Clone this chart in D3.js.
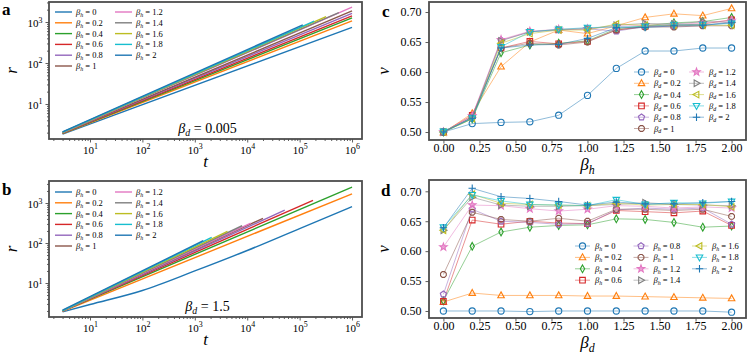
<!DOCTYPE html>
<html>
<head>
<meta charset="utf-8">
<style>
  body { margin: 0; background: #fff; }
  svg text { font-family: "Liberation Serif", "DejaVu Serif", serif; fill: #000; }
</style>
</head>
<body>
<svg id="fig" width="748" height="355"></svg>
<script src="https://d3js.org/d3.v7.min.js"></script>
<script>
  var colors = ["#1f77b4", "#ff7f0e", "#2ca02c", "#d62728", "#9467bd", "#8c564b",
    "#e377c2", "#7f7f7f", "#bcbd22", "#17becf", "#1f77b4"];
  var betaLabels = ["0", "0.2", "0.4", "0.6", "0.8", "1", "1.2", "1.4", "1.6", "1.8", "2"];
  var betaX = [0, 0.2, 0.4, 0.6, 0.8, 1.0, 1.2, 1.4, 1.6, 1.8, 2.0];
  var markers = ["o", "^", "d", "s", "p", "8", "*", ">", "<", "v", "+"];

  // panel a : r(t) for beta_d = 0.005, one list of [t, r] per beta_h
  var curvesA = [
    [[3, 1.85], [1e6, 740]],
    [[3, 1.9], [1e6, 1070]],
    [[3, 1.92], [1e6, 1260]],
    [[3, 1.95], [1e6, 1410]],
    [[3, 1.97], [1e6, 1630]],
    [[3, 1.98], [1e6, 1860]],
    [[3, 2.0], [1e6, 2300]],
    [[3, 2.02], [5.6e5, 1700]],
    [[3, 2.04], [3.2e5, 1350]],
    [[3, 2.06], [1.9e5, 1050]],
    [[3, 2.1], [1.15e5, 850]]
  ];

  // panel b : r(t) for beta_d = 1.5
  var curvesB = [
    [[3, 1.9], [10, 2.9], [100, 6.5], [1e3, 20], [1e4, 65], [1e5, 230], [1e6, 810]],
    [[3, 1.95], [1e6, 1700]],
    [[3, 2.0], [1e6, 2500]],
    [[3, 2.0], [1.8e5, 1170]],
    [[3, 2.0], [5.2e4, 660]],
    [[3, 2.0], [2.0e4, 415]],
    [[3, 2.0], [1.17e4, 316]],
    [[3, 2.0], [8e3, 270]],
    [[3, 2.05], [4.2e3, 195]],
    [[3, 2.05], [2.1e3, 138]],
    [[3, 2.1], [1.45e3, 114]]
  ];

  // panel c : nu vs beta_h, one row per beta_d
  var nuC = [
    [0.500, 0.514, 0.516, 0.517, 0.528, 0.561, 0.606, 0.635, 0.635, 0.640, 0.640],
    [0.499, 0.531, 0.609, 0.650, 0.670, 0.664, 0.677, 0.691, 0.697, 0.694, 0.706],
    [0.500, 0.522, 0.632, 0.645, 0.648, 0.652, 0.672, 0.677, 0.682, 0.684, 0.691],
    [0.500, 0.528, 0.640, 0.651, 0.647, 0.651, 0.670, 0.676, 0.678, 0.680, 0.687],
    [0.500, 0.525, 0.653, 0.667, 0.670, 0.672, 0.668, 0.676, 0.676, 0.677, 0.684],
    [0.500, 0.525, 0.640, 0.648, 0.645, 0.650, 0.670, 0.675, 0.675, 0.677, 0.677],
    [0.500, 0.527, 0.654, 0.668, 0.671, 0.672, 0.676, 0.678, 0.679, 0.682, 0.686],
    [0.500, 0.524, 0.652, 0.667, 0.671, 0.672, 0.678, 0.681, 0.680, 0.684, 0.683],
    [0.500, 0.522, 0.648, 0.664, 0.670, 0.670, 0.680, 0.678, 0.678, 0.678, 0.678],
    [0.501, 0.523, 0.642, 0.667, 0.671, 0.674, 0.675, 0.676, 0.679, 0.679, 0.681],
    [0.500, 0.523, 0.640, 0.645, 0.646, 0.656, 0.674, 0.674, 0.677, 0.678, 0.682]
  ];

  // panel d : nu vs beta_d, one row per beta_h
  var nuD = [
    [0.500, 0.500, 0.500, 0.499, 0.500, 0.500, 0.500, 0.500, 0.500, 0.500, 0.498],
    [0.515, 0.530, 0.526, 0.526, 0.526, 0.525, 0.525, 0.524, 0.523, 0.522, 0.521],
    [0.517, 0.608, 0.632, 0.640, 0.643, 0.644, 0.654, 0.653, 0.648, 0.640, 0.642],
    [0.516, 0.652, 0.645, 0.650, 0.647, 0.646, 0.668, 0.666, 0.664, 0.667, 0.643],
    [0.528, 0.670, 0.650, 0.648, 0.645, 0.646, 0.669, 0.672, 0.670, 0.672, 0.645],
    [0.561, 0.665, 0.653, 0.650, 0.655, 0.650, 0.670, 0.670, 0.668, 0.670, 0.658],
    [0.607, 0.677, 0.676, 0.671, 0.667, 0.670, 0.676, 0.675, 0.672, 0.674, 0.672],
    [0.635, 0.690, 0.677, 0.675, 0.675, 0.676, 0.678, 0.681, 0.678, 0.677, 0.676],
    [0.635, 0.695, 0.680, 0.678, 0.677, 0.676, 0.680, 0.677, 0.678, 0.678, 0.674],
    [0.640, 0.694, 0.684, 0.678, 0.677, 0.676, 0.686, 0.678, 0.681, 0.680, 0.683],
    [0.639, 0.705, 0.691, 0.688, 0.683, 0.677, 0.682, 0.679, 0.679, 0.681, 0.683]
  ];

  var logTicksT = [10, 100, 1e3, 1e4, 1e5, 1e6];
  var logTicksR = [10, 100, 1e3];
  var nuTicks = [0.50, 0.55, 0.60, 0.65, 0.70];
  var betaTicks = [0, 0.25, 0.5, 0.75, 1.0, 1.25, 1.5, 1.75, 2.0];

  var svg = d3.select("#fig");
  var frameColor = "#4d4d4d";

  function minorTicks(domain) {
    var out = [];
    for (var e = -1; e < 8; e++) {
      for (var k = 2; k < 10; k++) {
        var v = k * Math.pow(10, e);
        if (v >= domain[0] && v <= domain[1]) out.push(v);
      }
    }
    return out;
  }

  function supLabel(sel, fs) {
    sel.each(function(d) {
      var t = d3.select(this);
      var ex = Math.round(Math.log10(d));
      t.text(null);
      t.append("tspan").text("10");
      t.append("tspan").attr("dy", -fs * 0.45).style("font-size", (fs * 0.72) + "px").text(ex);
    });
  }

  function mathText(g, x, y, sub, rest, fs, anchor) {
    var t = g.append("text").attr("x", x).attr("y", y)
      .style("font-size", fs + "px").attr("text-anchor", anchor || "start");
    t.append("tspan").style("font-style", "italic").text("β");
    t.append("tspan").style("font-style", "italic").style("font-size", (fs * 0.7) + "px")
      .attr("dy", fs * 0.22).text(sub);
    if (rest) t.append("tspan").attr("dy", -fs * 0.22).text(rest);
    return t;
  }

  function markerPath(m, s) {
    var i, a, pts = [];
    function poly(list) {
      return "M" + list.map(function(q) { return q[0].toFixed(2) + "," + q[1].toFixed(2); }).join("L") + "Z";
    }
    if (m === "o") return "M" + s + ",0A" + s + "," + s + " 0 1,1 " + (-s) + ",0A" + s + "," + s + " 0 1,1 " + s + ",0Z";
    if (m === "^") return poly([[0, -s * 1.15], [s * 1.05, s * 0.75], [-s * 1.05, s * 0.75]]);
    if (m === "v") return poly([[0, s * 1.15], [s * 1.05, -s * 0.75], [-s * 1.05, -s * 0.75]]);
    if (m === ">") return poly([[s * 1.15, 0], [-s * 0.75, -s * 1.05], [-s * 0.75, s * 1.05]]);
    if (m === "<") return poly([[-s * 1.15, 0], [s * 0.75, -s * 1.05], [s * 0.75, s * 1.05]]);
    if (m === "d") return poly([[0, -s * 1.25], [s * 0.7, 0], [0, s * 1.25], [-s * 0.7, 0]]);
    if (m === "s") return poly([[-s * 0.9, -s * 0.9], [s * 0.9, -s * 0.9], [s * 0.9, s * 0.9], [-s * 0.9, s * 0.9]]);
    if (m === "p") {
      for (i = 0; i < 5; i++) { a = -Math.PI / 2 + i * 2 * Math.PI / 5; pts.push([Math.cos(a) * s * 1.05, Math.sin(a) * s * 1.05]); }
      return poly(pts);
    }
    if (m === "8") {
      for (i = 0; i < 8; i++) { a = Math.PI / 8 + i * Math.PI / 4; pts.push([Math.cos(a) * s, Math.sin(a) * s]); }
      return poly(pts);
    }
    if (m === "*") {
      for (i = 0; i < 10; i++) {
        a = -Math.PI / 2 + i * Math.PI / 5;
        var rr = i % 2 ? s * 0.5 : s * 1.25;
        pts.push([Math.cos(a) * rr, Math.sin(a) * rr]);
      }
      return poly(pts);
    }
    if (m === "+") return "M" + (-s * 1.2) + ",0H" + (s * 1.2) + "M0," + (-s * 1.2) + "V" + (s * 1.2);
    return "";
  }

  function frame(box, id) {
    var g = svg.append("g");
    g.append("clipPath").attr("id", id).append("rect")
      .attr("x", box.x0).attr("y", box.y0).attr("width", box.x1 - box.x0).attr("height", box.y1 - box.y0);
    return g;
  }

  function drawFrame(g, box) {
    g.append("rect").attr("x", box.x0).attr("y", box.y0)
      .attr("width", box.x1 - box.x0).attr("height", box.y1 - box.y0)
      .attr("fill", "none").attr("stroke", frameColor).attr("stroke-width", 1.8);
  }

  function styleAxis(ax) {
    ax.select(".domain").remove();
    ax.selectAll(".tick line").attr("stroke", frameColor).attr("stroke-width", 0.9);
  }

  // ---------- panels a, b ----------
  function logPanel(box, id, curves, yDom, note, legendY) {
    var g = frame(box, id);
    var x = d3.scaleLog().domain([Math.pow(10, 0.218), Math.pow(10, 6.19)]).range([box.x0, box.x1]);
    var y = d3.scaleLog().domain(yDom).range([box.y1, box.y0]);

    var xa = g.append("g").attr("transform", "translate(0," + box.y1 + ")")
      .call(d3.axisBottom(x).tickValues(minorTicks(x.domain())).tickSize(2).tickFormat(""));
    styleAxis(xa);
    var xb = g.append("g").attr("transform", "translate(0," + box.y1 + ")")
      .call(d3.axisBottom(x).tickValues(logTicksT).tickSize(3.5).tickPadding(1));
    styleAxis(xb);
    xb.selectAll("text").style("font-size", "11px").attr("dy", "0.95em").call(supLabel, 11);

    var ya = g.append("g").attr("transform", "translate(" + box.x0 + ",0)")
      .call(d3.axisLeft(y).tickValues(minorTicks(y.domain())).tickSize(2).tickFormat(""));
    styleAxis(ya);
    var yb = g.append("g").attr("transform", "translate(" + box.x0 + ",0)")
      .call(d3.axisLeft(y).tickValues(logTicksR).tickSize(3.5).tickPadding(3));
    styleAxis(yb);
    yb.selectAll("text").style("font-size", "11px").attr("dy", "0.45em").call(supLabel, 11);

    var line = d3.line().curve(d3.curveMonotoneX)
      .x(function(d) { return x(d[0]); }).y(function(d) { return y(d[1]); });
    g.append("g").attr("clip-path", "url(#" + id + ")").selectAll("path")
      .data(curves).join("path")
      .attr("d", line).attr("fill", "none")
      .attr("stroke", function(d, i) { return colors[i]; })
      .attr("stroke-width", 1.4);

    drawFrame(g, box);

    // legend
    var lg = g.append("g");
    betaLabels.forEach(function(lab, i) {
      var col = i < 6 ? 0 : 1, row = i < 6 ? i : i - 6;
      var lx = box.x0 + 6 + col * 60, ly = box.y0 + legendY + row * 10.8;
      lg.append("line").attr("x1", lx).attr("x2", lx + 17).attr("y1", ly).attr("y2", ly)
        .attr("stroke", colors[i]).attr("stroke-width", 1.4);
      mathText(lg, lx + 21, ly + 3, "h", " = " + lab, 8.5);
    });

    mathText(g, (box.x0 + box.x1) / 2 + 2, box.y1 - 6, "d", " = " + note, 14, "middle");

    g.append("text").attr("x", (box.x0 + box.x1) / 2).attr("y", box.y1 + 28)
      .attr("text-anchor", "middle").style("font-size", "17px").style("font-style", "italic").text("t");
    g.append("text").attr("transform", "translate(17," + ((box.y0 + box.y1) / 2) + ") rotate(-90)")
      .attr("text-anchor", "middle").style("font-size", "17px").style("font-style", "italic").text("r");
  }

  // ---------- panels c, d ----------
  function nuPanel(box, id, rows, yDom, xSub, legSub, legend) {
    var g = frame(box, id);
    var x = d3.scaleLinear().domain([-0.1, 2.1]).range([box.x0, box.x1]);
    var y = d3.scaleLinear().domain(yDom).range([box.y1, box.y0]);

    var xa = g.append("g").attr("transform", "translate(0," + box.y1 + ")")
      .call(d3.axisBottom(x).tickValues(betaTicks).tickSize(3.5).tickPadding(0).tickFormat(d3.format(".2f")));
    styleAxis(xa);
    xa.selectAll("text").style("font-size", "12px");
    var ya = g.append("g").attr("transform", "translate(" + box.x0 + ",0)")
      .call(d3.axisLeft(y).tickValues(nuTicks).tickSize(3.5).tickPadding(4).tickFormat(d3.format(".2f")));
    styleAxis(ya);
    ya.selectAll("text").style("font-size", "12px");

    var line = d3.line().x(function(d, j) { return x(betaX[j]); }).y(function(d) { return y(d); });
    var plot = g.append("g").attr("clip-path", "url(#" + id + ")");
    rows.forEach(function(r, i) {
      plot.append("path").attr("d", line(r)).attr("fill", "none")
        .attr("stroke", colors[i]).attr("stroke-width", 1).attr("stroke-opacity", 0.5);
      plot.selectAll(null).data(r).join("path")
        .attr("transform", function(d, j) { return "translate(" + x(betaX[j]) + "," + y(d) + ")"; })
        .attr("d", markerPath(markers[i], 3.1))
        .attr("fill", markers[i] === "*" ? colors[i] : "none")
        .attr("fill-opacity", 0.6)
        .attr("stroke", colors[i]).attr("stroke-width", 1.1);
    });

    drawFrame(g, box);

    var lg = g.append("g");
    betaLabels.forEach(function(lab, i) {
      var col = Math.floor(i / legend.perCol), row = i % legend.perCol;
      var lx = legend.x + col * legend.dx, ly = legend.y + row * legend.dy;
      lg.append("line").attr("x1", lx).attr("x2", lx + 15).attr("y1", ly).attr("y2", ly)
        .attr("stroke", colors[i]).attr("stroke-width", 1).attr("stroke-opacity", 0.5);
      lg.append("path").attr("transform", "translate(" + (lx + 7.5) + "," + ly + ")")
        .attr("d", markerPath(markers[i], 3.1))
        .attr("fill", markers[i] === "*" ? colors[i] : "none").attr("fill-opacity", 0.6)
        .attr("stroke", colors[i]).attr("stroke-width", 1.1);
      mathText(lg, lx + 20, ly + 3, legSub, " = " + lab, 8.5);
    });

    mathText(g, (box.x0 + box.x1) / 2, box.y1 + 30, xSub, "", 17, "middle");
    g.append("text").attr("transform", "translate(389," + ((box.y0 + box.y1) / 2) + ") rotate(-90)")
      .attr("text-anchor", "middle").style("font-size", "17px").style("font-style", "italic").text("ν");
  }

  var boxA = { x0: 49, x1: 362, y0: 2, y1: 139 };
  var boxB = { x0: 49, x1: 362, y0: 181, y1: 317 };
  var boxC = { x0: 429, x1: 746, y0: 2, y1: 140 };
  var boxD = { x0: 429, x1: 746, y0: 180, y1: 318 };

  logPanel(boxA, "clipA", curvesA, [Math.pow(10, 0.146), Math.pow(10, 3.488)], "0.005", 10);
  logPanel(boxB, "clipB", curvesB, [Math.pow(10, 0.15), Math.pow(10, 3.55)], "1.5", 11);
  nuPanel(boxC, "clipC", nuC, [0.4867, 0.7167], "h", "d", { x: 634, y: 72, dx: 55, dy: 11.3, perCol: 6 });
  nuPanel(boxD, "clipD", nuD, [0.4883, 0.7189], "d", "h", { x: 575, y: 246, dx: 58.5, dy: 11.4, perCol: 4 });

  // panel letters
  [["a", 2, 15], ["b", 2, 195], ["c", 382, 17], ["d", 381, 196]].forEach(function(p) {
    svg.append("text").attr("x", p[1]).attr("y", p[2]).style("font-size", "17px")
      .style("font-weight", "bold").text(p[0]);
  });
</script>
</body>
</html>
